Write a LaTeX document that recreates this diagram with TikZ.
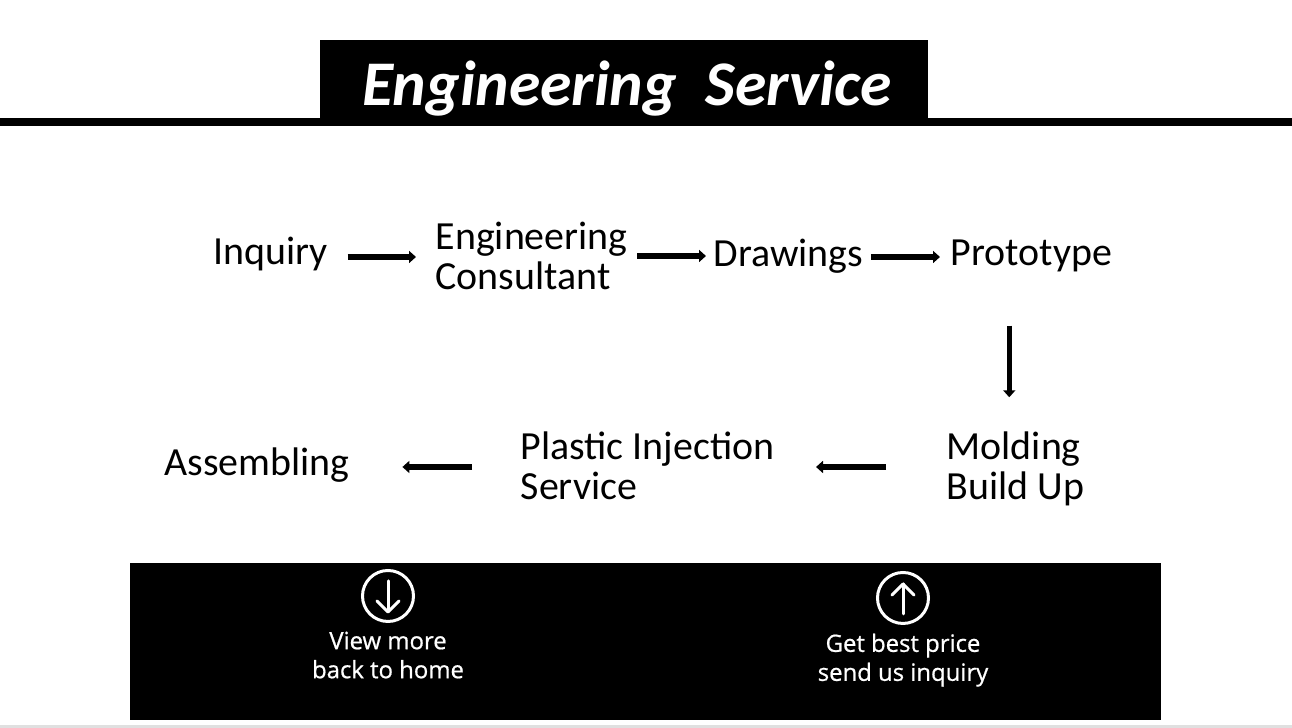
\documentclass[tikz,border=0pt]{standalone}
\usepackage{fontspec}
\setmainfont{Carlito}
\newfontfamily\footfont[FakeBold=0.7]{Open Sans}
\usetikzlibrary{arrows.meta, positioning, calc}
\tikzset{
    steplabel/.style={align=left, inner sep=0pt, font=\fontsize{11.35pt}{11.35pt}\selectfont},
    flowarrow/.style={line width=0.055cm, -{Triangle[length=0.07cm, width=0.12cm]}},
    footlabel/.style={align=center, inner sep=0pt, text=white, font=\footfont\fontsize{6.8pt}{8.25pt}\selectfont},
    footicon/.style={circle, draw=white, line width=0.03cm, minimum size=0.51cm, inner sep=0pt},
    footarrow/.style={draw=white, line width=0.03cm, line cap=round, line join=round}
}

\begin{document}
\begin{tikzpicture}
    \useasboundingbox (0, 0) rectangle (12.92, 7.28);
    \fill[white] (0, 0) rectangle (12.92, 7.28);

    % Title banner
    \fill[black] (3.20, 6.02) rectangle (9.28, 6.88);
    \fill[black] (0, 6.02) rectangle (12.92, 6.10);
    \node[inner sep=0pt, text=white, font=\fontsize{18.1pt}{20pt}\selectfont\bfseries\itshape] (title) at (6.27, 6.39) {Engineering\ \ Service};

    % Upper row
    \node[steplabel, anchor=west] (inquiry) at (2.13, 4.74) {Inquiry};
    \node[steplabel, anchor=west] (consultant) at (4.35, 4.72) {Engineering\\Consultant};
    \node[steplabel, anchor=west] (drawings) at (7.13, 4.72) {Drawings};
    \node[steplabel, anchor=west] (prototype) at (9.50, 4.72) {Prototype};

    % Lower row
    \node[steplabel, anchor=west] (molding) at (9.46, 2.59) {Molding\\Build Up};
    \node[steplabel, anchor=west] (injection) at (5.20, 2.62) {Plastic Injection\\Service};
    \node[steplabel, anchor=west] (assembling) at (1.64, 2.63) {Assembling};

    % Arrows
    \draw[flowarrow, shorten <=0.19cm, shorten >=0.19cm] ([yshift=-0.03cm]inquiry.east) -- ([yshift=-0.03cm]inquiry.east -| consultant.west);
    \draw[flowarrow, shorten <=0.09cm, shorten >=0.07cm] (consultant.east) -- (consultant.east -| drawings.west);
    \draw[flowarrow, shorten <=0.07cm, shorten >=0.10cm] ([yshift=-0.01cm]drawings.east) -- ([yshift=-0.01cm]drawings.east -| prototype.west);
    \draw[flowarrow, shorten <=0.53cm, shorten >=0.34cm] ([xshift=-0.22cm]prototype.south) -- ([xshift=-0.22cm]prototype.south |- molding.north);
    \draw[flowarrow, shorten <=0.60cm, shorten >=0.41cm] ([yshift=0.02cm]molding.west) -- ([yshift=0.02cm]molding.west -| injection.east);
    \draw[flowarrow, shorten <=0.48cm, shorten >=0.52cm] ([yshift=-0.01cm]injection.west) -- ([yshift=-0.01cm]injection.west -| assembling.east);

    % Footer
    \fill[black] (1.30, 0.08) rectangle (11.61, 1.65);
    \fill[black!12] (0, 0) rectangle (12.92, 0.03);

    \node[footicon] (home) at (3.88, 1.32) {};
    \draw[footarrow] (home.north) ++(0, -0.12) -- ++(0, -0.30);
    \draw[footarrow] (3.77, 1.27) -- (3.88, 1.16) -- (3.99, 1.27);
    \node[footlabel, below=0.08cm of home] (homelabel) {View more\\back to home};

    \node[footicon] (price) at (9.03, 1.30) {};
    \draw[footarrow] (price.south) ++(0, 0.11) -- ++(0, 0.30);
    \draw[footarrow] (8.92, 1.33) -- (9.03, 1.44) -- (9.14, 1.33);
    \node[footlabel, below=0.08cm of price] (pricelabel) {Get best price\\send us inquiry};
\end{tikzpicture}
\end{document}
